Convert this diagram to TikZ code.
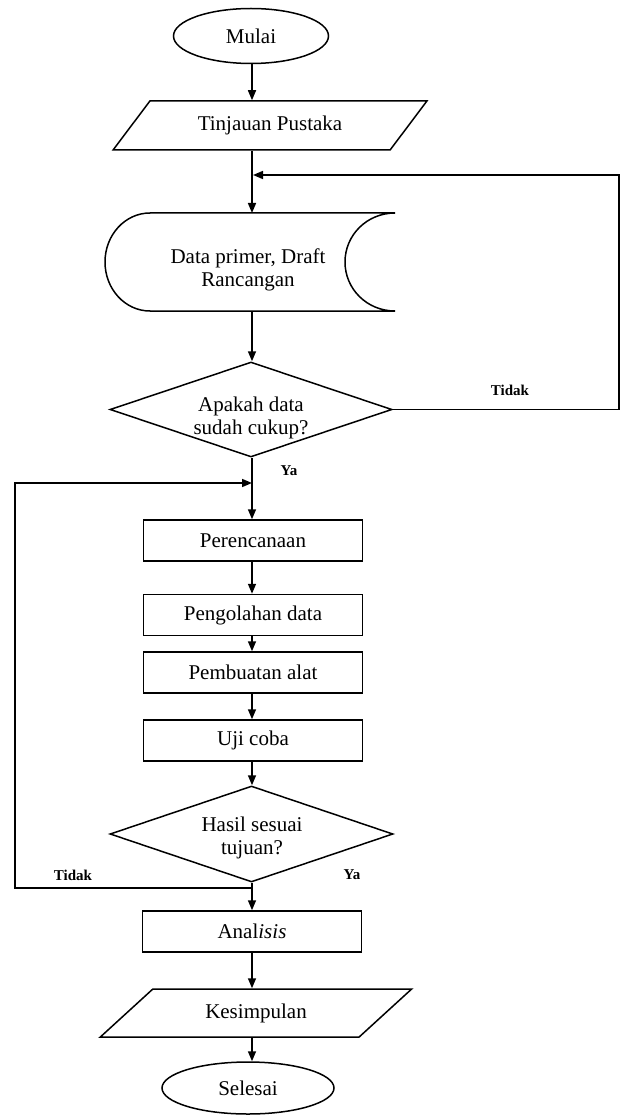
\documentclass[tikz,border=0pt]{standalone}
\usepackage{fontspec}
\setmainfont{Liberation Serif}
\usetikzlibrary{shapes.geometric,arrows.meta}
\begin{document}
\begin{tikzpicture}[x=1pt,y=-1pt,line width=1.5pt,
  txt/.style={font=\fontsize{21}{23}\selectfont,align=center},
  lbl/.style={font=\fontsize{15}{17}\selectfont\bfseries},
  terminal/.style={draw,ellipse,txt,inner sep=0pt},
  io/.style={draw,trapezium,trapezium stretches=true,txt,inner sep=0pt},
  proses/.style={draw,rectangle,txt,minimum width=219pt,minimum height=41pt,inner sep=0pt},
  keputusan/.style={draw,diamond,inner sep=0pt},
  panah/.style={-{Triangle[length=10pt,width=8pt]}}]
  \useasboundingbox (0,0) rectangle (631,1115);
  \coordinate (col) at (252,0);
  % 开始、输入
  \node[terminal,minimum width=155pt,minimum height=55pt] (mulai) at (251,36) {Mulai};
  \node[io,minimum width=314pt,minimum height=49pt,
        trapezium left angle=40.7,trapezium right angle=139.3] (tinjauan) at (270,125.5) {Tinjauan Pustaka};
  % 数据存储（左凸右凹）
  \node[minimum width=245pt,minimum height=98pt] (data) at (272.5,262) {};
  \draw (150,213) -- (395,213)
        .. controls (367,213) and (345,235) .. (345,262)
        .. controls (345,289) and (367,311) .. (395,311)
        -- (150,311)
        .. controls (125,311) and (105,289) .. (105,262)
        .. controls (105,235) and (125,213) .. (150,213) -- cycle;
  \node[txt] (datatext) at (248,270) {Data primer, Draft\\Rancangan};
  % 判断 1
  \node[keputusan,minimum width=282pt,minimum height=95pt] (cek) at (251,409.5) {};
  \node[txt] (cektext) at (251,417.5) {Apakah data\\sudah cukup?};
  % 过程框
  \foreach \n/\y/\t in {rencana/540.5/Perencanaan, olah/615/Pengolahan data,
                        buat/672.5/Pembuatan alat, uji/740.5/Uji coba}
    \node[proses] (\n) at (253,\y) {\t};
  % 判断 2
  \node[keputusan,minimum width=283pt,minimum height=96pt] (hasil) at (251.5,834) {};
  \node[txt] (hasiltext) at (252,838) {Hasil sesuai\\tujuan?};
  % 结果、结束
  \node[proses] (analisis) at (252,931.5) {Anal\textit{isis}};
  \node[io,minimum width=312pt,minimum height=48pt,
        trapezium left angle=36.4,trapezium right angle=143.6] (simpul) at (256,1013) {Kesimpulan};
  \node[terminal,minimum width=172pt,minimum height=52pt] (selesai) at (248,1088) {Selesai};
  % 主干箭头
  \coordinate (dtop) at (252,213);
  \coordinate (dbot) at (252,311);
  \draw[panah] (tinjauan.south -| col) -- (dtop);
  \draw[panah] (dbot) -- (cek.north -| col);
  \draw[panah] (cek.south -| col) -- (rencana.north -| col);
  \foreach \a/\b in {mulai/tinjauan, rencana/olah, olah/buat, buat/uji, uji/hasil,
                     hasil/analisis, analisis/simpul, simpul/selesai}
    \draw[panah] (\a.south -| col) -- (\b.north -| col);
  % 回路：Tidak
  \coordinate (back) at (253,175);
  \draw[panah] (cek.east) -- ++(226,0) |- (back);
  \coordinate (ulang) at (252,888);
  \coordinate (masuk) at (252,483);
  \draw[panah] (ulang) -- ++(-237,0) |- (masuk);
  % 标注
  \node[lbl] (tidak1) at (510,390) {Tidak};
  \node[lbl] (ya1) at (289,471) {Ya};
  \node[lbl] (tidak2) at (73,875) {Tidak};
  \node[lbl] (ya2) at (352,875) {Ya};
\end{tikzpicture}
\end{document}
